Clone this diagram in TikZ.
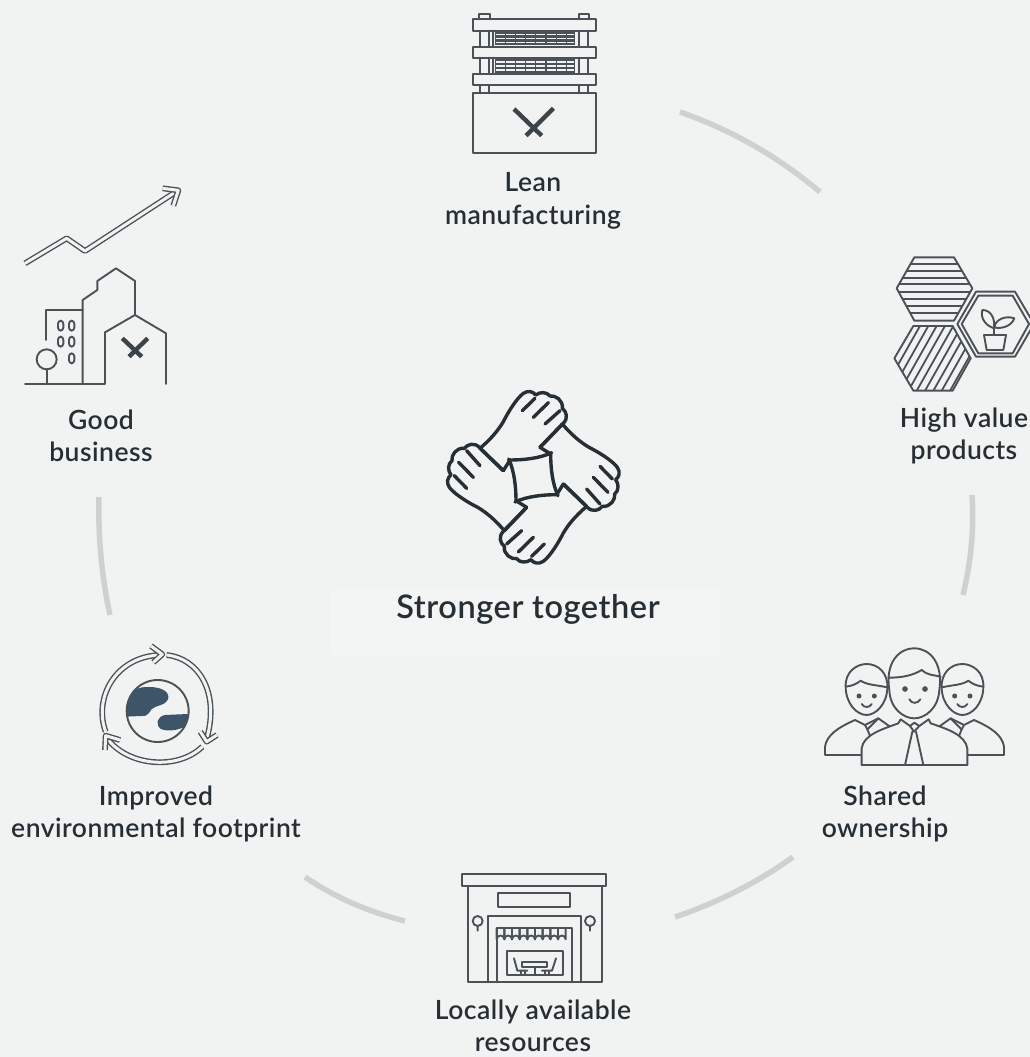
\documentclass[tikz,border=0pt]{standalone}
\usepackage{fontspec}
\setmainfont{Lato Semibold}[LetterSpace=1.8]
\definecolor{bgc}{HTML}{F1F3F3}
\definecolor{bgl}{HTML}{F3F4F4}
\definecolor{ink}{HTML}{262F34}
\definecolor{iconc}{HTML}{4A5257}
\definecolor{arcc}{HTML}{CFD1CF}
\definecolor{blobc}{HTML}{3D5568}
\tikzset{
  ic/.style={draw=iconc,line width=1.9pt,line join=round,line cap=round},
  hvy/.style={draw=#1,line width=4.4pt,line cap=butt},
  hvy/.default=iconc,
  dbl/.style={draw=iconc,line width=1.4pt,double=bgc,double distance=3pt,line join=round},
  deco/.style={draw=arcc,line width=5.5pt},
  lab/.style={font=\fontsize{26.5}{32.5}\selectfont,text=ink,align=center,inner sep=0pt},
  hand/.style={draw=#1,line width=3.4pt,line join=round,line cap=round},
  hand/.default={ink},
}
\newcommand{\handshape}{%
  (135,205) .. controls (170,175) and (190,150) .. (205,125)
  .. controls (220,95) and (245,55) .. (265,40)
  .. controls (280,30) and (295,35) .. (302,45)
  .. controls (315,35) and (335,35) .. (345,48)
  .. controls (360,45) and (385,60) .. (382,85)
  .. controls (395,95) and (400,115) .. (385,130)
  -- (315,202)
}
\begin{document}
\begin{tikzpicture}[x=1pt,y=-1pt]
\fill[bgc] (0,0) rectangle (1030,1057);
\useasboundingbox (0,0) rectangle (1030,1057);
\clip (0,0) rectangle (1030,1057);
\fill[bgl] (330,590) rectangle (720,655);

% decorative ring segments
\draw[deco] (680,112) .. controls (731.6,130) and (778.3,156.7) .. (820,192);
\draw[deco] (972,495) .. controls (974.3,528.3) and (971,561.7) .. (963,595);
\draw[deco] (793,857) .. controls (757.7,882.3) and (718.3,902.3) .. (675,917);
\draw[deco] (405,921) .. controls (367.7,911.7) and (334.3,897) .. (305,877);
\draw[deco] (99,497) .. controls (98,537.7) and (101.7,577) .. (110,615);

% labels
\node[lab] (lean) at (533,201) {Lean\\manufacturing};
\node[lab] (high) at (964,436) {High value\\products};
\node[lab] (shared) at (885,814) {Shared\\ownership};
\node[lab] (local) at (533,1026) {Locally available\\resources};
\node[lab] (env) at (156,814) {Improved\\environmental footprint};
\node[lab] (good) at (101,436) {Good\\business};
\node[lab,font=\fontsize{32.5}{38}\selectfont] (center) at (528,609) {Stronger together};

% lean manufacturing icon
\begin{scope}[shift={(440,0)},scale=1/3]
  \draw[ic] (117,58) -- (117,43) -- (150,43) -- (150,58);
  \draw[ic] (416,58) -- (416,41) -- (447,41) -- (447,58);
  \foreach \a/\b in {92/141,173/222,255/280}{
    \draw[ic] (120,\a) -- (120,\b);
    \draw[ic] (147,\a) -- (147,\b);
    \draw[ic] (416,\a) -- (416,\b);
    \draw[ic] (444,\a) -- (444,\b);
  }
  \foreach \a/\b in {92/141,173/222}{
    \draw[ic] (160,\a) -- (160,\b);
  }
  \foreach \t in {95,178}{
    \fill[iconc] (165,\t) rectangle (405,\t+41);
    \foreach \r in {8,20,32}{
      \draw[bgc,line width=1.3pt,dash pattern=on 9pt off 1.2pt] (167,\t+\r) -- (403,\t+\r);
    }
  }
  \draw[ic] (100,58) rectangle (467,92);
  \draw[ic] (100,141) rectangle (467,173);
  \draw[ic] (100,222) rectangle (467,255);
  \draw[ic] (100,280) rectangle (467,460);
  \draw[hvy=ink!90!white] (222,327) -- (305,407);
  \draw[hvy=ink!90!white] (340,325) -- (258,407);
\end{scope}

% high value products icon
\begin{scope}[shift={(880,250)},scale=1/3]
  \begin{scope}
    \clip (103,22) -- (222,22) -- (277,115) -- (222,212) -- (103,212) -- (50,115) -- cycle;
    \foreach \y in {41,62,83,103,125,147,168,190}{
      \draw[iconc,line width=1.8pt] (40,\y) -- (290,\y);
    }
  \end{scope}
  \draw[ic] (103,22) -- (222,22) -- (277,115) -- (222,212) -- (103,212) -- (50,115) -- cycle;
  \begin{scope}
    \clip (100,228) -- (218,228) -- (272,325) -- (218,422) -- (100,422) -- (43,325) -- cycle;
    \foreach \x in {0,25,...,400}{
      \draw[iconc,line width=1.8pt] (\x,440) -- (\x+130,210);
    }
  \end{scope}
  \draw[ic] (100,228) -- (218,228) -- (272,325) -- (218,422) -- (100,422) -- (43,325) -- cycle;
  \draw[ic] (288,125) -- (405,125) -- (462,222) -- (405,320) -- (288,320) -- (232,222) -- cycle;
  \draw[ic] (295,137) -- (398,137) -- (447,222) -- (398,310) -- (295,310) -- (245,222) -- cycle;
  \draw[ic] (312,255) -- (378,255) -- (370,300) -- (320,300) -- cycle;
  \draw[ic] (343,255) -- (343,222);
  \draw[ic] (343,235) .. controls (318,228) and (300,205) .. (307,180) .. controls (330,180) and (345,200) .. (343,235);
  \draw[ic] (343,232) .. controls (345,210) and (375,195) .. (403,205) .. controls (395,228) and (365,238) .. (343,232);
\end{scope}

% shared ownership icon
\begin{scope}[shift={(810,640)},scale=1/3]
  \newcommand{\sideperson}{%
    \draw[ic,fill=bgc] (45,345) -- (45,320) .. controls (50,285) and (85,262) .. (135,240)
       -- (165,255) -- (205,235) -- (240,260) -- (160,330) -- (155,345) -- cycle;
    \draw[ic] (165,255) -- (172,268) -- (185,300);
    \draw[ic] (172,268) -- (205,235);
    \draw[ic,fill=bgc] (107,140) .. controls (105,95) and (140,72) .. (170,72) .. controls (205,72) and (235,100) .. (232,145)
      .. controls (230,195) and (195,225) .. (170,225) .. controls (140,225) and (107,190) .. (107,140) -- cycle;
    \draw[ic] (107,140) .. controls (125,138) and (140,132) .. (152,122) .. controls (170,135) and (200,135) .. (232,142);
    \fill[iconc] (147,168) circle (7.5) (193,168) circle (7.5);
    \draw[ic] (155,192) .. controls (162,204) and (178,204) .. (185,192);
  }
  \sideperson
  \begin{scope}[shift={(627,0)},xscale=-1]
    \sideperson
  \end{scope}
  \draw[ic,fill=bgc] (238,150) .. controls (225,70) and (265,25) .. (313,25) .. controls (360,25) and (400,70) .. (388,150)
    .. controls (385,205) and (345,235) .. (313,235) .. controls (280,235) and (240,205) .. (238,150) -- cycle;
  \draw[ic] (237,113) .. controls (280,113) and (310,105) .. (335,90) .. controls (350,105) and (370,105) .. (392,110);
  \fill[iconc] (285,147) circle (8.5) (345,147) circle (8.5);
  \draw[ic] (298,178) .. controls (305,192) and (323,192) .. (331,178);
  \draw[ic,fill=bgc] (155,375) -- (155,325) .. controls (160,285) and (215,268) .. (265,250)
    -- (272,238) -- (300,258) -- (313,248) -- (328,258) -- (356,238) -- (362,250)
    .. controls (415,268) and (465,285) .. (472,325) -- (472,375) -- cycle;
  \draw[ic] (300,258) -- (312,275) -- (328,258);
  \draw[ic] (307,275) -- (285,375);
  \draw[ic] (318,275) -- (340,375);
\end{scope}

% locally available resources icon
\begin{scope}[shift={(450,860)},scale=1/3]
  \draw[ic] (37,42) rectangle (468,78);
  \draw[ic] (53,78) -- (53,367) -- (455,367) -- (455,78);
  \draw[ic] (145,100) rectangle (360,140);
  \draw[ic] (113,367) -- (113,167) -- (392,167) -- (392,367);
  \draw[ic] (140,367) -- (140,205) -- (367,205) -- (367,367);
  \draw[ic] (83,183) circle (15) (83,198) -- (83,212);
  \draw[ic] (420,183) circle (15) (420,198) -- (420,212);
  \foreach \x in {140,163,...,345}{
    \draw[ic] (\x,205) -- (\x,238) arc[start angle=180,end angle=360,radius=11.5] -- (\x+23,205);
  }
  \draw[ic] (170,272) rectangle (338,345);
  \draw[ic] (216,307) rectangle (292,322);
  \draw[ic] (254,322) -- (254,345);
  \draw[ic] (192,295) -- (202,332) -- (232,332);
  \draw[ic] (318,295) -- (306,332) -- (276,332);
  \draw[ic] (212,332) -- (212,345) (224,332) -- (224,345) (284,332) -- (284,345) (296,332) -- (296,345);
\end{scope}

% improved environmental footprint icon
\begin{scope}[shift={(85,635)},scale=1/3]
  \begin{scope}
    \clip (218,228) circle (93);
    \fill[blobc] (120,245) -- (130,195) .. controls (140,165) and (160,155) .. (190,156)
      .. controls (235,155) and (258,175) .. (248,195) .. controls (240,212) and (215,210) .. (200,222)
      .. controls (192,235) and (185,245) .. (170,243) -- cycle;
    \fill[blobc] (330,236) -- (240,240) .. controls (215,245) and (210,270) .. (228,282)
      .. controls (250,292) and (290,285) .. (315,265) -- cycle;
  \end{scope}
  \draw[ic] (218,228) circle (93);
  \draw[dbl] (62,290) .. controls (25,190) and (90,65) .. (225,60);
  \draw[dbl] (245,60) .. controls (340,70) and (405,170) .. (365,312);
  \draw[dbl] (352,335) .. controls (280,405) and (135,395) .. (70,315);
  \draw[dbl] (198,33) -- (232,58) -- (205,82);
  \draw[dbl] (346,290) -- (365,320) -- (396,300);
  \draw[dbl] (60,345) -- (62,302) -- (105,315);
\end{scope}

% good business icon
\begin{scope}[shift={(10,175)},scale=1/3]
  \draw[dbl] (45,265) -- (170,190) -- (225,228) -- (495,52);
  \draw[dbl] (458,40) -- (505,46) -- (490,92);
  \draw[ic] (45,627) -- (285,627) -- (285,472) -- (375,420) -- (468,475) -- (468,627);
  \draw[ic] (218,627) -- (218,375) -- (262,345) -- (262,318) -- (318,280) -- (375,318) -- (375,420);
  \draw[ic] (108,495) -- (108,405) -- (218,405);
  \draw[ic] (110,553) circle (30);
  \draw[ic] (110,583) -- (110,627);
  \foreach \x/\y in {152/452,185/452,152/500,185/500,185/550}{
    \draw[ic,rounded corners=3pt] (\x-8,\y-15) rectangle (\x+8,\y+15);
  }
  \draw[hvy=ink!90!white] (337,490) -- (395,545);
  \draw[hvy=ink!90!white] (413,490) -- (357,545);
\end{scope}

% stronger together icon
\begin{scope}[shift={(435,380)},scale=1/3]
  \foreach \r in {0,90,180,270}{
    \begin{scope}[rotate around={\r:(295,292)}]
      \draw[hand] \handshape;
      \draw[hand] (135,205) -- (205,272);
      \draw[hand] (262,92) -- (300,55);
      \draw[hand] (295,112) -- (340,68);
      \draw[hand] (330,132) -- (375,92);
      \draw[hand] (205,272) -- (225,240) .. controls (265,240) and (315,235) .. (350,218);
    \end{scope}
  }
\end{scope}
\end{tikzpicture}
\end{document}
